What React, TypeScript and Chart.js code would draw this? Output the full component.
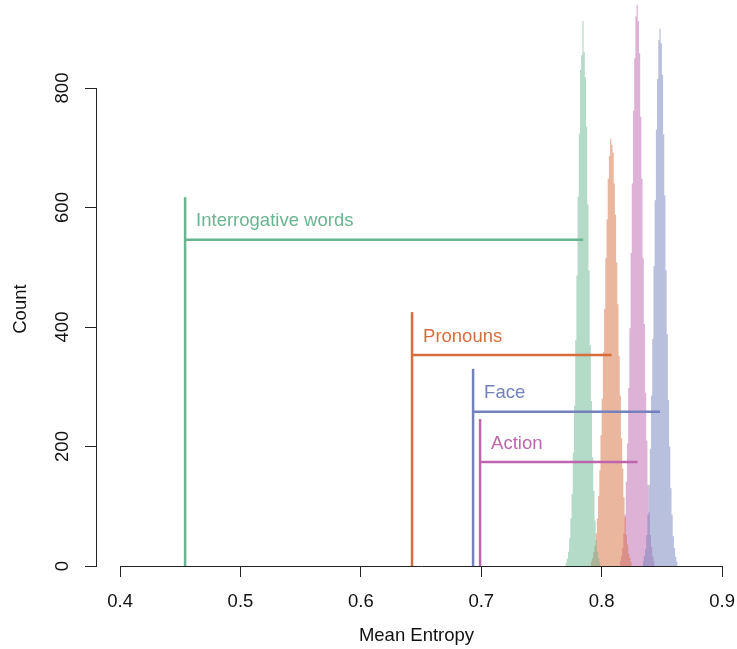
import React, { useEffect, useRef } from "react";
import { Chart, registerables } from "chart.js";

Chart.register(...registerables);

// ---- data ----
const groupNames = ["Interrogative words", "Pronouns", "Face", "Action"];
const observedEntropy = [0.454, 0.6425, 0.6932, 0.699];
const markerTop = [617, 425, 330, 246];
const markerLevel = [546, 353, 258, 174];
const nullMean = [0.7846, 0.8083, 0.8485, 0.8298];

const binWidth = 0.001;
const binStart = [0.770, 0.791, 0.834, 0.815];
const interrogativeCounts = [6, 12, 24, 47, 80, 121, 190, 268, 378, 486, 618, 724, 830, 855, 912, 860, 818, 735, 605, 495, 370, 276, 182, 126, 76, 43, 24, 13, 6];
const pronounCounts = [8, 13, 23, 34, 55, 79, 117, 160, 219, 280, 358, 430, 515, 580, 648, 686, 715, 705, 692, 640, 588, 508, 438, 352, 285, 214, 163, 115, 82, 52, 36, 21, 14, 7];
const faceCounts = [8, 17, 29, 52, 86, 135, 196, 285, 380, 502, 612, 730, 815, 880, 899, 875, 822, 722, 620, 495, 388, 278, 200, 130, 86, 50, 30, 15, 8];
const actionCounts = [8, 16, 30, 55, 86, 141, 205, 298, 398, 524, 640, 762, 850, 920, 939, 912, 858, 752, 648, 515, 405, 290, 210, 136, 90, 52, 32, 16, 8];
const countsList = [interrogativeCounts, pronounCounts, faceCounts, actionCounts];

const xTicks = [0.4, 0.5, 0.6, 0.7, 0.8, 0.9];
const yTicks = [0, 200, 400, 600, 800];
const xTitle = "Mean Entropy";
const yTitle = "Count";

const lineColors = ["#69B591", "#D76D3D", "#7381BD", "#BD65AD"];
const fillColors = [
  "rgba(105,181,145,0.5)",
  "rgba(215,109,61,0.5)",
  "rgba(115,129,189,0.5)",
  "rgba(189,101,173,0.5)",
];

const FONT = '"Liberation Sans", Arial, Helvetica, sans-serif';
const FONT_SIZE = 18.5;
const AXIS_COLOR = "#222";
const TEXT_COLOR = "#111";

const rStylePlugin = {
  id: "rStyle",
  afterDatasetsDraw(chart: any) {
    const { ctx, scales, chartArea } = chart;
    const xs = scales.x;
    const ys = scales.y;
    ctx.save();
    // annotation labels
    ctx.font = `${FONT_SIZE}px ${FONT}`;
    ctx.textAlign = "left";
    ctx.textBaseline = "alphabetic";
    groupNames.forEach((name, i) => {
      ctx.fillStyle = lineColors[i];
      ctx.fillText(name, xs.getPixelForValue(observedEntropy[i]) + 11, ys.getPixelForValue(markerLevel[i]) - 13.5);
    });
    // R-style axis lines
    ctx.strokeStyle = AXIS_COLOR;
    ctx.lineWidth = 1;
    const yb = Math.round(chartArea.bottom) + 0.5;
    ctx.beginPath();
    ctx.moveTo(Math.round(xs.getPixelForValue(xTicks[0])), yb);
    ctx.lineTo(Math.round(xs.getPixelForValue(xTicks[xTicks.length - 1])) + 1, yb);
    ctx.stroke();
    const xl = Math.round(chartArea.left) + 0.5;
    ctx.beginPath();
    ctx.moveTo(xl, Math.round(ys.getPixelForValue(yTicks[0])) + 1);
    ctx.lineTo(xl, Math.round(ys.getPixelForValue(yTicks[yTicks.length - 1])));
    ctx.stroke();
    // y title
    ctx.fillStyle = TEXT_COLOR;
    ctx.translate(20.5, ys.getPixelForValue(430));
    ctx.rotate(-Math.PI / 2);
    ctx.textAlign = "center";
    ctx.textBaseline = "middle";
    ctx.fillText(yTitle, 0, 0);
    ctx.restore();
  },
};

export default function App() {
  const ref = useRef<HTMLCanvasElement>(null);
  useEffect(() => {
    document.body.style.margin = "0";
    const canvas = ref.current;
    if (!canvas) return;

    const datasets: any[] = [];
    countsList.forEach((counts, i) => {
      const pts = counts.map((c, k) => ({ x: binStart[i] + k * binWidth, y: c }));
      pts.push({ x: binStart[i] + counts.length * binWidth, y: 0 });
      datasets.push({
        type: "line",
        label: groupNames[i] + " null",
        data: pts,
        stepped: "before",
        fill: "origin",
        backgroundColor: fillColors[i],
        borderColor: "rgba(0,0,0,0)",
        borderWidth: 0,
        pointRadius: 0,
        order: 1,
      });
    });
    groupNames.forEach((name, i) => {
      datasets.push({
        type: "line",
        label: name + " observed",
        data: [
          { x: observedEntropy[i], y: 0 },
          { x: observedEntropy[i], y: markerTop[i] },
        ],
        borderColor: lineColors[i],
        borderWidth: 2.5,
        borderCapStyle: "butt",
        pointRadius: 0,
        fill: false,
        order: 0,
      });
      datasets.push({
        type: "line",
        label: name + " gap",
        data: [
          { x: observedEntropy[i], y: markerLevel[i] },
          { x: nullMean[i], y: markerLevel[i] },
        ],
        borderColor: lineColors[i],
        borderWidth: 2.5,
        borderCapStyle: "butt",
        pointRadius: 0,
        fill: false,
        order: 0,
      });
    });

    const chart = new Chart(canvas, {
      type: "line",
      data: { datasets },
      plugins: [rStylePlugin],
      options: {
        animation: false,
        responsive: false,
        events: [],
        layout: { padding: 0 },
        plugins: { legend: { display: false }, tooltip: { enabled: false } },
        scales: {
          x: {
            type: "linear",
            min: 0.38,
            max: 0.9124,
            afterBuildTicks: (s: any) => {
              s.ticks = xTicks.map((v) => ({ value: v }));
            },
            afterFit: (s: any) => {
              s.height = 83;
              s.paddingLeft = 0;
              s.paddingRight = 0;
            },
            border: { display: false },
            grid: {
              drawOnChartArea: false,
              drawTicks: true,
              tickLength: 11,
              tickColor: AXIS_COLOR,
              tickWidth: 1,
            },
            ticks: {
              autoSkip: false,
              maxRotation: 0,
              minRotation: 0,
              padding: 14,
              color: TEXT_COLOR,
              font: { family: FONT, size: FONT_SIZE },
              callback: (v: any) => Number(v).toFixed(1),
            },
            title: {
              display: true,
              text: xTitle,
              color: TEXT_COLOR,
              font: { family: FONT, size: FONT_SIZE },
              padding: { top: 0, bottom: 2 },
            },
          },
          y: {
            type: "linear",
            min: 0,
            max: 947.3,
            afterBuildTicks: (s: any) => {
              s.ticks = yTicks.map((v) => ({ value: v }));
            },
            afterFit: (s: any) => {
              s.width = 96;
              s.paddingTop = 0;
              s.paddingBottom = 0;
            },
            border: { display: false },
            grid: {
              drawOnChartArea: false,
              drawTicks: true,
              tickLength: 11,
              tickColor: AXIS_COLOR,
              tickWidth: 1,
            },
            ticks: {
              autoSkip: false,
              minRotation: 90,
              maxRotation: 90,
              crossAlign: "center",
              padding: 7,
              color: TEXT_COLOR,
              font: { family: FONT, size: FONT_SIZE },
              callback: (v: any) => String(v),
            },
          },
        },
      } as any,
    });
    return () => chart.destroy();
  }, []);

  return (
    <div style={{ width: 737, height: 649 }}>
      <canvas ref={ref} width={737} height={649} style={{ display: "block", width: 737, height: 649 }} />
    </div>
  );
}
